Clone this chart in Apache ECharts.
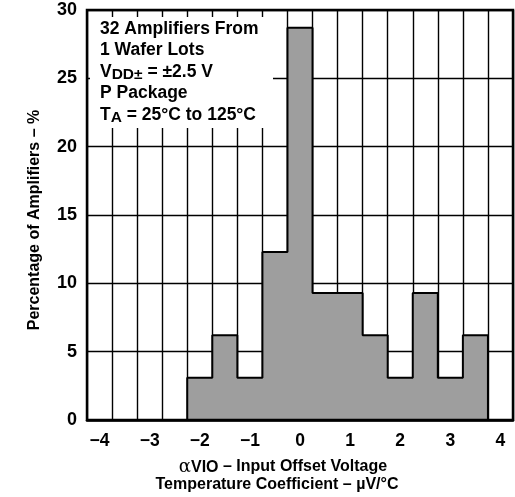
<!DOCTYPE html>
<html>
<head>
<meta charset="utf-8">
<script src="https://cdn.jsdelivr.net/npm/echarts@6/dist/echarts.min.js"></script>
<style>
html,body{margin:0;padding:0;background:#fff;}
#c{width:515px;height:497px;}
</style>
</head>
<body>
<div id="c"></div>
<script>
// Bin centers (µV/°C), bin width 0.5
var binCenters = ['-4','-3.5','-3','-2.5','-2','-1.5','-1','-0.5','0','0.5','1','1.5','2','2.5','3','3.5','4'];
// Percentage of amplifiers in each bin
var percentages = [0, 0, 0, 0, 3.1, 6.2, 3.1, 12.3, 28.7, 9.3, 9.3, 6.2, 3.1, 9.3, 3.1, 6.2, 0];
// x tick labels (every other bin)
var xTickLabels = ['\u22124','\u22123','\u22122','\u22121','0','1','2','3','4'];
var yTicks = [0, 5, 10, 15, 20, 25, 30];

var FONT = '"Liberation Sans", Arial, Helvetica, sans-serif';
var chart = echarts.init(document.getElementById('c'), null, {renderer:'canvas'});

var G = {left:87, top:10, width:426, height:410};
var GRAY = '#9e9e9e';

chart.setOption({
  backgroundColor:'#ffffff',
  animation:false,
  grid:{left:G.left, top:G.top, width:G.width, height:G.height, show:true, backgroundColor:'#fff', borderWidth:0},
  xAxis:{
    type:'category', data:binCenters, boundaryGap:true,
    axisLine:{show:true, lineStyle:{color:'#000', width:2.5}},
    axisTick:{show:false},
    splitLine:{show:true, interval:0, lineStyle:{color:'#000', width:1.4}},
    axisLabel:{interval:1, margin:12, color:'#000', fontFamily:FONT, fontWeight:'bold', fontSize:17.5,
      formatter:function(v, i){ return xTickLabels[i/2]; }}
  },
  yAxis:{
    type:'value', min:yTicks[0], max:yTicks[yTicks.length-1], interval:5,
    axisLine:{show:true, lineStyle:{color:'#000', width:2}},
    axisTick:{show:false},
    splitLine:{show:true, lineStyle:{color:'#000', width:1.4}},
    axisLabel:{margin:10, color:'#000', fontFamily:FONT, fontWeight:'bold', fontSize:18}
  },
  series:[
    {type:'line', data:percentages, step:'middle', symbol:'none', z:4,
     areaStyle:{color:GRAY, opacity:1},
     lineStyle:{color:'#000', width:2}}
  ],
  graphic:[
    {type:'rect', z:1, shape:{x:90, y:17, width:183, height:111}, style:{fill:'#fff'}},
    {type:'rect', z:100, shape:{x:G.left, y:G.top, width:G.width, height:G.height}, style:{fill:'none', stroke:'#000', lineWidth:2.5}},
    {type:'text', z:101, left:100, top:20, style:{
      text:'{n|32 Amplifiers From}\n{n|1 Wafer Lots}\n{n|V}{s|DD\u00b1}{n| = \u00b12.5 V}\n{n|P Package}\n{n|T}{s|A}{n| = 25\u00b0C to 125\u00b0C}',
      fill:'#000', font:'bold 17.5px '+FONT,
      rich:{
        n:{fontFamily:FONT, fontWeight:'bold', fontSize:17.5, lineHeight:21.5, fill:'#000'},
        s:{fontFamily:FONT, fontWeight:'bold', fontSize:15.5, lineHeight:11, verticalAlign:'bottom', fill:'#000'}
      }}},
    {type:'text', z:101, x:35, y:220, rotation:Math.PI/2, style:{
      text:'Percentage of Amplifiers \u2013 %', fill:'#000', font:'bold 16px '+FONT, align:'center', verticalAlign:'middle'}},
    {type:'text', z:101, x:283, y:467, style:{
      text:'{a|\u03b1}{s|VIO}{n| \u2013 Input Offset Voltage}', align:'center', verticalAlign:'middle', fill:'#000',
      rich:{
        a:{fontFamily:'"DejaVu Serif", serif', fontSize:18, lineHeight:18, fill:'#000'},
        n:{fontFamily:FONT, fontWeight:'bold', fontSize:16, lineHeight:18, fill:'#000'},
        s:{fontFamily:FONT, fontWeight:'bold', fontSize:16, lineHeight:10, verticalAlign:'bottom', fill:'#000'}
      }}},
    {type:'text', z:101, x:277, y:485, style:{
      text:'Temperature Coefficient \u2013 \u00b5V/\u00b0C', fill:'#000', font:'bold 16px '+FONT, align:'center', verticalAlign:'middle'}}
  ]
});
</script>
</body>
</html>
